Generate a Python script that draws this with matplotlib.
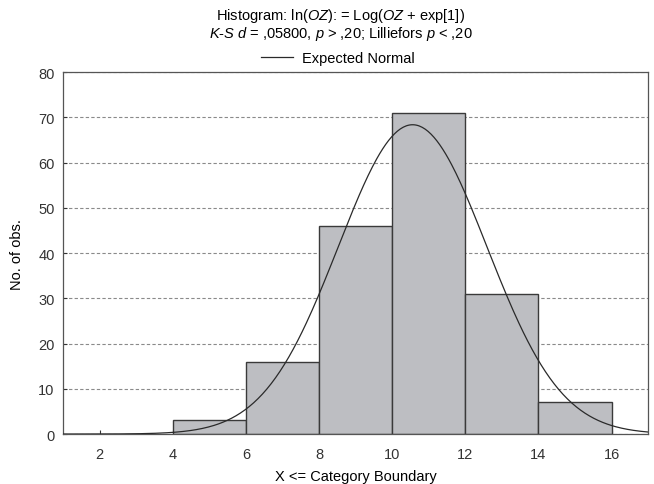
import numpy as np
import matplotlib
matplotlib.use("Agg")
import matplotlib.pyplot as plt

# histogram data
bin_edges = [4, 6, 8, 10, 12, 14, 16]
counts = [3, 16, 46, 71, 31, 7]

fit_mean = 10.56
fit_sd = 2.03

plt.rcParams["font.family"] = ["Liberation Sans", "DejaVu Sans"]
plt.rcParams["mathtext.fontset"] = "custom"
plt.rcParams["mathtext.rm"] = "Liberation Sans"
plt.rcParams["mathtext.it"] = "Liberation Sans:italic"

fig = plt.figure(figsize=(6.54, 4.85), dpi=100)
ax = fig.add_axes([0.0963, 0.103, 0.8947, 0.746])

widths = np.diff(bin_edges)
ax.bar(bin_edges[:-1], counts, width=widths, align="edge",
       color="#bdbec2", edgecolor="#3a3a3a", linewidth=1.0, zorder=2)

n_total = sum(counts)
bw = widths[0]
xs = np.linspace(1, 17, 400)
ys = n_total * bw / (fit_sd * np.sqrt(2 * np.pi)) * np.exp(-0.5 * ((xs - fit_mean) / fit_sd) ** 2)
ax.plot(xs, ys, color="#2a2a2a", linewidth=0.9, zorder=3, label="Expected Normal")

ax.set_xlim(1, 17)
ax.set_ylim(0, 80)
ax.set_xticks(range(2, 17, 2))
ax.set_yticks(range(0, 81, 10))
ax.yaxis.grid(True, linestyle=(0, (3, 2)), color="#8a8a8a", linewidth=0.8, zorder=1)
ax.set_axisbelow(True)
ax.tick_params(direction="in", length=3, labelsize=10.5, colors="#333333")
ax.tick_params(axis="x", pad=9)
ax.tick_params(axis="y", pad=6)
for sp in ax.spines.values():
    sp.set_color("#555555")
    sp.set_linewidth(0.9)

ax.set_xlabel("X <= Category Boundary", fontsize=10.5, labelpad=6)
ax.set_ylabel("No. of obs.", fontsize=10.5, labelpad=10)

fig.text(0.521, 0.968, "Histogram: ln($\\mathit{OZ}$): = Log($\\mathit{OZ}$ + exp[1])",
         ha="center", va="center", fontsize=10.5)
fig.text(0.521, 0.929, "$\\mathit{K}$-$\\mathit{S}$ $\\mathit{d}$ = ,05800, $\\mathit{p}$ > ,20; Lilliefors $\\mathit{p}$ < ,20",
         ha="center", va="center", fontsize=10.5)
ax.legend(loc="lower center", bbox_to_anchor=(0.47, 1.0), frameon=False,
          fontsize=10.5, handlelength=2.2, handletextpad=0.6, borderaxespad=0.1)

fig.savefig("out.png", dpi=100)
